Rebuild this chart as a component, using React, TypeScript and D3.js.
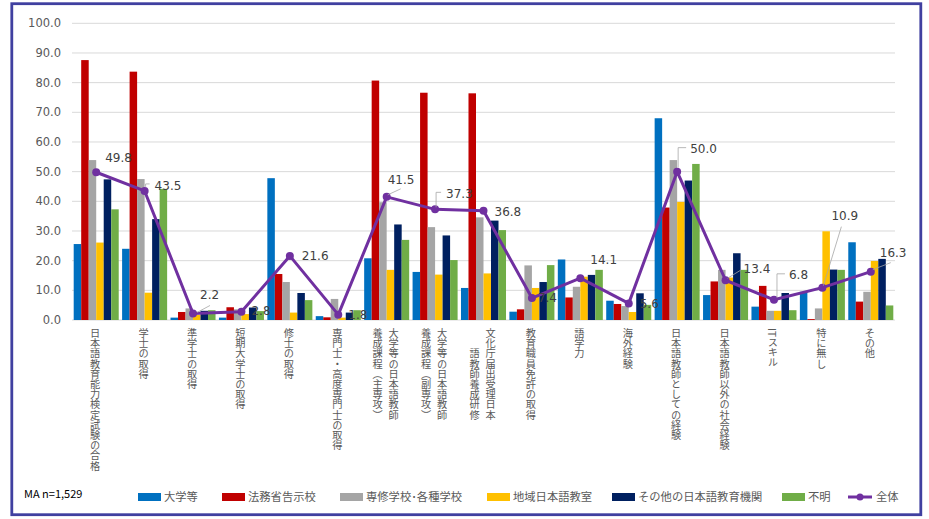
import React from 'react';
import * as d3 from 'd3';

const categories = [
  '日本語教育能力検定試験の合格',
  '学士の取得',
  '準学士の取得',
  '短期大学士の取得',
  '修士の取得',
  '専門士・高度専門士の取得',
  '大学等の日本語教師養成課程（主専攻）',
  '大学等の日本語教師養成課程（副専攻）',
  '文化庁届出受理日本語教師養成研修',
  '教育職員免許の取得',
  '語学力',
  '海外経験',
  '日本語教師としての経験',
  '日本語教師以外の社会経験',
  'ITスキル',
  '特に無し',
  'その他',
];
const categoryLines: string[][] = [
  ['日本語教育能力検定試験の合格'],
  ['学士の取得'],
  ['準学士の取得'],
  ['短期大学士の取得'],
  ['修士の取得'],
  ['専門士・高度専門士の取得'],
  ['大学等の日本語教師', '養成課程（主専攻）'],
  ['大学等の日本語教師', '養成課程（副専攻）'],
  ['文化庁届出受理日本', '語教師養成研修'],
  ['教育職員免許の取得'],
  ['語学力'],
  ['海外経験'],
  ['日本語教師としての経験'],
  ['日本語教師以外の社会経験'],
  ['ITスキル'],
  ['特に無し'],
  ['その他'],
];

const seriesNames = ['大学等', '法務省告示校', '専修学校･各種学校', '地域日本語教室', 'その他の日本語教育機関', '不明'];
const seriesColors = ['#0070C0', '#C00000', '#A5A5A5', '#FFC000', '#002060', '#70AD47'];

const daigaku = [25.6, 24.0, 0.8, 0.8, 47.8, 1.3, 20.8, 16.2, 10.8, 2.8, 20.4, 6.5, 68.0, 8.4, 4.5, 9.5, 26.2];
const houmu = [87.6, 83.7, 2.7, 4.3, 15.5, 0.9, 80.7, 76.6, 76.4, 3.6, 7.6, 5.4, 37.9, 13.0, 11.5, 0.3, 6.2];
const senshu = [53.9, 47.5, 3.9, 3.6, 12.8, 7.1, 39.7, 31.3, 34.6, 18.4, 11.2, 4.7, 53.9, 16.9, 3.1, 3.9, 9.5];
const chiiki = [26.1, 9.2, 1.7, 2.0, 2.5, 0.8, 16.9, 15.3, 15.7, 10.8, 14.6, 2.7, 39.8, 14.3, 3.1, 29.9, 19.9];
const sonota = [47.4, 34.0, 3.1, 4.2, 9.1, 2.5, 32.2, 28.5, 33.5, 12.8, 15.2, 9.0, 47.0, 22.5, 9.1, 17.0, 20.6];
const fumei = [37.3, 44.2, 3.3, 3.0, 6.7, 3.3, 27.0, 20.2, 30.3, 18.5, 16.9, 5.1, 52.6, 16.9, 3.3, 16.9, 4.9];
const zentai = [49.8, 43.5, 2.2, 2.8, 21.6, 1.8, 41.5, 37.3, 36.8, 7.4, 14.1, 5.6, 50.0, 13.4, 6.8, 10.9, 16.3];
const yTicks = [0, 10, 20, 30, 40, 50, 60, 70, 80, 90, 100];

// label placement (offset of label's left/middle from point) and leader lines (relative to point)
const labelOffsets: [number, number][] = [
  [9, -14], [10, -5], [7, -19], [10, -1], [12, 0], [10, 0], [1, -17], [11, -16], [11, 1],
  [6, 0], [10, -18], [11, 0], [13, -23], [18, -11], [15, -25], [9, -72], [9, -19],
];
const leaders: ([number, number][] | null)[] = [
  null,
  [[1, -4], [1, -7], [5, -7]],
  [[4, -1], [17, -8]],
  null, null, null,
  [[1, -2], [14, -8]],
  [[1, -2], [1, -17], [6, -17]],
  null, null, null, null,
  [[1, -4], [1, -24], [9, -24]],
  [[2, -2], [15, -10]],
  [[3, -2], [3, -26], [11, -26]],
  [[1, -2], [19, -61]],
  [[2, -2], [20, -9]],
];

const legendX = [138, 222, 340, 487, 612, 782];

const W = 929;
const H = 519;

export default function App() {
  const allSeries = [daigaku, houmu, senshu, chiiki, sonota, fumei];
  const x = d3.scaleBand<string>().domain(categories).range([72, 895]).padding(0);
  const bw = x.bandwidth();
  const xs = d3.scaleBand<string>().domain(seriesNames).range([bw * 0.035, bw * 0.965]).padding(0);
  const y = d3.scaleLinear().domain([0, 100]).range([320, 23.3]);
  const fmt = d3.format('.1f');
  const cx = (i: number) => (x(categories[i]) as number) + bw / 2;
  const line = d3.line<number>().x((_, i) => cx(i)).y((d) => y(d));
  const numFont = '"DejaVu Sans", Verdana, sans-serif';
  const jpFont = '"Noto Sans CJK JP", "Noto Sans", sans-serif';
  const charSize = 10.2;

  return (
    <svg width={W} height={H} style={{ position: 'absolute', left: 0, top: 0, background: '#fff' }}>
      <rect x={11.8} y={3.7} width={909} height={511} fill="#fff" stroke="#4040A0" strokeWidth={2.8} />
      {yTicks.map((t) => (
        <g key={t}>
          <line x1={72} x2={895} y1={y(t)} y2={y(t)} stroke="#D9D9D9" strokeWidth={1} />
          <text x={61} y={y(t)} dy="0.35em" textAnchor="end" fontFamily={numFont} fontSize={11.5} fill="#595959">
            {fmt(t)}
          </text>
        </g>
      ))}
      {allSeries.map((vals, s) => (
        <g key={s} fill={seriesColors[s]}>
          {vals.map((v, i) => (
            <rect
              key={i}
              x={(x(categories[i]) as number) + (xs(seriesNames[s]) as number)}
              y={y(v)}
              width={xs.bandwidth()}
              height={y(0) - y(v)}
            />
          ))}
        </g>
      ))}
      {categoryLines.map((lines, i) => {
        const c = cx(i);
        if (lines.length === 1) {
          return (
            <text key={i} x={c - 1} y={328} style={{ writingMode: 'vertical-rl' }} fontFamily={jpFont} fontSize={charSize} fill="#595959">
              {lines[0]}
            </text>
          );
        }
        const endY = 328 + lines[0].length * charSize;
        return (
          <g key={i}>
            <text x={c + 7} y={328} style={{ writingMode: 'vertical-rl' }} fontFamily={jpFont} fontSize={charSize} fill="#595959">
              {lines[0]}
            </text>
            <text x={c - 9} y={endY} textAnchor="end" style={{ writingMode: 'vertical-rl' }} fontFamily={jpFont} fontSize={charSize} fill="#595959">
              {lines[1]}
            </text>
          </g>
        );
      })}
      <path d={line(zentai) || ''} fill="none" stroke="#7030A0" strokeWidth={3} strokeLinejoin="round" />
      {zentai.map((v, i) => (
        <circle key={i} cx={cx(i)} cy={y(v)} r={4} fill="#7030A0" />
      ))}
      {zentai.map((v, i) => {
        const px = cx(i);
        const py = y(v);
        const ld = leaders[i];
        return (
          <g key={i}>
            {ld && (
              <polyline
                points={ld.map(([dx, dy]) => `${px + dx},${py + dy}`).join(' ')}
                fill="none"
                stroke="#A6A6A6"
                strokeWidth={0.8}
              />
            )}
            <text
              x={px + labelOffsets[i][0]}
              y={py + labelOffsets[i][1]}
              dy="0.35em"
              fontFamily={numFont}
              fontSize={12}
              fill="#404040"
            >
              {fmt(v)}
            </text>
          </g>
        );
      })}
      <text x={24} y={494} dy="0.35em" fontFamily={jpFont} fontSize={11} fill="#000">
        MA n=1,529
      </text>
      {seriesNames.map((n, s) => (
        <g key={n}>
          <rect x={legendX[s]} y={493} width={23} height={8} fill={seriesColors[s]} />
          <text x={legendX[s] + 26} y={497} dy="0.35em" fontFamily={jpFont} fontSize={11.3} fill="#595959">
            {n}
          </text>
        </g>
      ))}
      <g>
        <line x1={848} x2={872} y1={497} y2={497} stroke="#7030A0" strokeWidth={3} />
        <circle cx={860} cy={497} r={3.5} fill="#7030A0" />
        <text x={876} y={497} dy="0.35em" fontFamily={jpFont} fontSize={11.3} fill="#595959">
          全体
        </text>
      </g>
    </svg>
  );
}
